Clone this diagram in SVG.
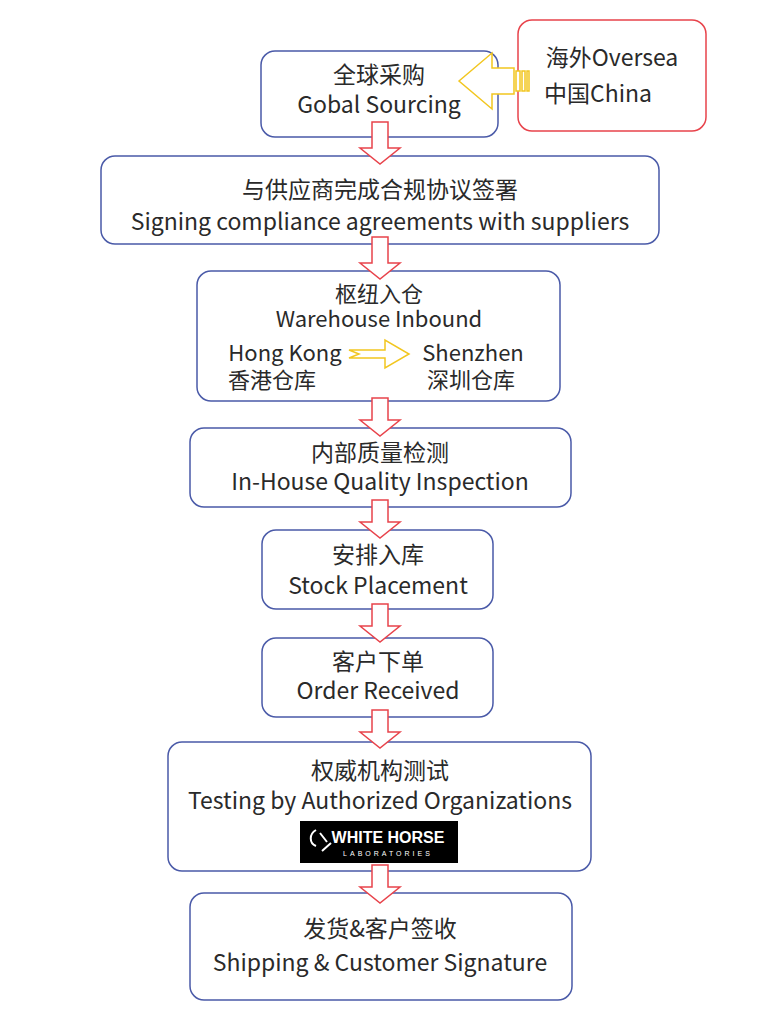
<svg xmlns="http://www.w3.org/2000/svg" width="765" height="1024" viewBox="0 0 765 1024">
<style>
.b{fill:#fff;stroke:#4a5aa8;stroke-width:1.5}
.r{fill:#fff;stroke:#e8434b;stroke-width:1.5}
text{font-family:"Noto Sans CJK SC","Noto Sans",sans-serif;font-size:23px;fill:#2a2a2a;text-anchor:middle}
.ar{fill:#fff;stroke:#e8434b;stroke-width:1.5}
.ya{fill:#fff;stroke:#f2c61f;stroke-width:1.5}
</style>
<rect width="765" height="1024" fill="#fff"/>
<g id="n0"><rect class="r" x="518" y="20" width="188" height="111" rx="14"/>
<text x="612" y="66">海外Oversea</text><text x="598" y="102">中国China</text></g>
<g id="n1"><rect class="b" x="261" y="51" width="237" height="86" rx="14"/>
<text x="379" y="83">全球采购</text><text x="379" y="113">Gobal Sourcing</text></g>
<g id="n2"><rect class="b" x="101" y="156" width="558" height="88" rx="14"/>
<text x="380" y="198">与供应商完成合规协议签署</text><text x="380" y="230">Signing compliance agreements with suppliers</text></g>
<g id="n3"><rect class="b" x="197" y="271" width="363" height="130" rx="14"/>
<text x="379" y="302" style="font-size:22px">枢纽入仓</text><text x="379" y="327" style="font-size:22px">Warehouse Inbound</text>
<text x="285" y="361" style="font-size:22px">Hong Kong</text><text x="272" y="388" style="font-size:22px">香港仓库</text>
<text x="473" y="361" style="font-size:22px">Shenzhen</text><text x="471" y="388" style="font-size:22px">深圳仓库</text></g>
<g id="n4"><rect class="b" x="190" y="428" width="381" height="79" rx="14"/>
<text x="380" y="461">内部质量检测</text><text x="380" y="490">In-House Quality Inspection</text></g>
<g id="n5"><rect class="b" x="262" y="530" width="231" height="79" rx="14"/>
<text x="378" y="563">安排入库</text><text x="378" y="594">Stock Placement</text></g>
<g id="n6"><rect class="b" x="262" y="638" width="231" height="79" rx="14"/>
<text x="378" y="670">客户下单</text><text x="378" y="699">Order Received</text></g>
<g id="n7"><rect class="b" x="168" y="742" width="423" height="129" rx="14"/>
<text x="380" y="779">权威机构测试</text><text x="380" y="809">Testing by Authorized Organizations</text>
<rect x="300" y="821" width="158" height="42" fill="#000"/>
<text x="388" y="843" style="font-size:16px;font-weight:bold;fill:#fff;font-family:'Liberation Sans',sans-serif">WHITE HORSE</text>
<text x="388" y="856" style="font-size:7px;letter-spacing:3px;fill:#fff;font-family:'Liberation Sans',sans-serif">LABORATORIES</text>
<path d="M316,830 c-7,4 -7,13 0,16 M320,833 l7,9 M322,851 l9,-8" stroke="#fff" stroke-width="2" fill="none"/></g>
<g id="n8"><rect class="b" x="190" y="893" width="382" height="107" rx="14"/>
<text x="380" y="937">发货&amp;客户签收</text><text x="380" y="971">Shipping &amp; Customer Signature</text></g>
<g id="connectors">
<path class="ar" d="M372,122 h16 v26 h12 l-20,16 l-20,-16 h12 z"/>
<path class="ar" d="M372,237 h16 v26 h12 l-20,16 l-20,-16 h12 z"/>
<path class="ar" d="M372,398 h16 v22 h12 l-20,16 l-20,-16 h12 z"/>
<path class="ar" d="M372,500 h16 v22 h12 l-20,16 l-20,-16 h12 z"/>
<path class="ar" d="M372,604 h16 v22 h12 l-20,16 l-20,-16 h12 z"/>
<path class="ar" d="M372,710 h16 v22 h12 l-20,16 l-20,-16 h12 z"/>
<path class="ar" d="M372,865 h16 v22 h12 l-20,16 l-20,-16 h12 z"/>
<path class="ya" d="M459,81 l33,-28 v15 h22 v26 h-22 v15 z"/>
<rect class="ya" x="516" y="71" width="4" height="20"/>
<rect class="ya" x="522" y="71" width="3" height="20"/>
<rect class="ya" x="527" y="71" width="2" height="20"/>
<path class="ya" d="M349,350 h36 v-10 l24,14 l-24,14 v-10 h-36 l10,-4 z"/>
</g>
</svg>
